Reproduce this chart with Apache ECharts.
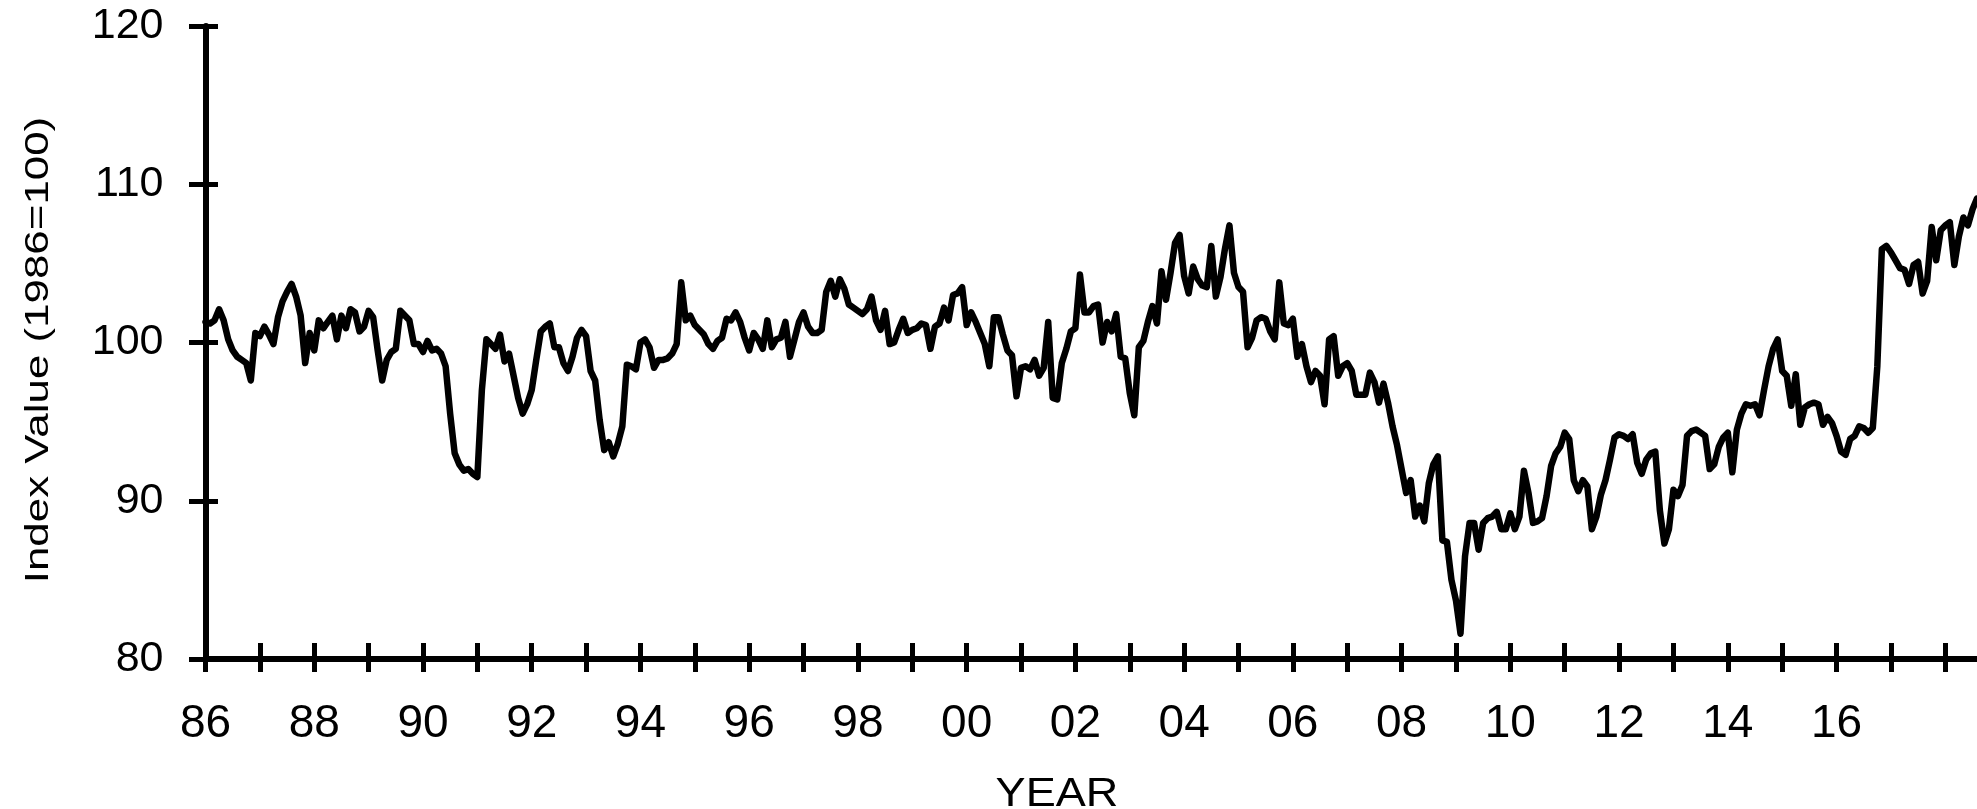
<!DOCTYPE html>
<html>
<head>
<meta charset="utf-8">
<title>Index Value (1986=100)</title>
<script src="https://cdn.jsdelivr.net/npm/echarts@6/dist/echarts.min.js"></script>
<style>
  html, body { margin: 0; padding: 0; background: #fff; }
  #chart { width: 1977px; height: 809px; }
</style>
</head>
<body>
<div id="chart"></div>
<script>
// monthly index, first value is Jan 1986
const startYear = 1986
const lastLabelYear = 2016
const indexValues = [
  101.3, 101.2, 101.4, 102.1, 101.4, 100.2, 99.5, 99.1, 98.9, 98.7, 97.6, 100.6,
  100.4, 101.0, 100.5, 99.9, 101.6, 102.6, 103.2, 103.7, 102.9, 101.7, 98.7, 100.6,
  99.5, 101.4, 100.9, 101.3, 101.7, 100.2, 101.7, 100.9, 102.1, 101.9, 100.7, 101.0,
  102.0, 101.6, 99.5, 97.6, 98.9, 99.4, 99.6, 102.0, 101.7, 101.4, 99.9, 99.9,
  99.4, 100.1, 99.5, 99.6, 99.3, 98.5, 95.5, 93.0, 92.3, 91.9, 92.0, 91.7,
  91.5, 97.0, 100.2, 99.9, 99.6, 100.5, 98.8, 99.3, 97.9, 96.5, 95.5, 96.1,
  97.0, 98.9, 100.7, 101.0, 101.2, 99.7, 99.7, 98.7, 98.2, 99.1, 100.3, 100.8,
  100.4, 98.2, 97.6, 95.1, 93.2, 93.7, 92.8, 93.6, 94.7, 98.6, 98.5, 98.3,
  100.0, 100.2, 99.7, 98.4, 98.9, 98.9, 99.0, 99.3, 99.9, 103.8, 101.4, 101.7,
  101.1, 100.8, 100.5, 99.9, 99.6, 100.1, 100.3, 101.5, 101.4, 101.9, 101.3, 100.3,
  99.5, 100.6, 100.2, 99.6, 101.4, 99.7, 100.2, 100.3, 101.3, 99.1, 100.2, 101.3,
  101.9, 101.0, 100.6, 100.6, 100.8, 103.2, 103.9, 102.9, 104.0, 103.4, 102.4, 102.2,
  102.0, 101.8, 102.1, 102.9, 101.4, 100.8, 102.0, 99.9, 100.0, 100.8, 101.5, 100.6,
  100.8, 100.9, 101.2, 101.1, 99.6, 101.0, 101.2, 102.2, 101.4, 103.0, 103.1, 103.5,
  101.1, 101.9, 101.3, 100.6, 99.9, 98.5, 101.6, 101.6, 100.5, 99.5, 99.2, 96.6,
  98.4, 98.5, 98.3, 98.9, 97.9, 98.4, 101.3, 96.5, 96.4, 98.7, 99.6, 100.7,
  100.9, 104.3, 101.9, 101.9, 102.3, 102.4, 100.0, 101.3, 100.7, 101.8, 99.1, 99.0,
  96.8, 95.4, 99.7, 100.1, 101.3, 102.3, 101.2, 104.5, 102.7, 104.4, 106.3, 106.8,
  104.2, 103.1, 104.8, 104.0, 103.6, 103.5, 106.1, 102.9, 104.1, 105.9, 107.4, 104.4,
  103.5, 103.2, 99.7, 100.3, 101.4, 101.6, 101.5, 100.7, 100.2, 103.8, 101.2, 101.1,
  101.5, 99.1, 99.9, 98.5, 97.5, 98.2, 97.9, 96.1, 100.2, 100.4, 97.9, 98.5,
  98.7, 98.2, 96.7, 96.7, 96.7, 98.1, 97.5, 96.2, 97.4, 96.2, 94.7, 93.5,
  92.0, 90.5, 91.3, 89.0, 89.7, 88.7, 91.1, 92.3, 92.8, 87.5, 87.4, 85.0,
  83.7, 81.6, 86.5, 88.6, 88.6, 86.9, 88.6, 88.9, 89.0, 89.3, 88.2, 88.2,
  89.2, 88.2, 89.0, 91.9, 90.5, 88.6, 88.7, 88.9, 90.3, 92.2, 93.0, 93.4,
  94.3, 93.9, 91.3, 90.6, 91.3, 90.9, 88.2, 89.0, 90.4, 91.3, 92.6, 94.0,
  94.2, 94.1, 93.9, 94.2, 92.4, 91.7, 92.6, 93.0, 93.1, 89.4, 87.3, 88.2,
  90.7, 90.3, 91.0, 94.1, 94.4, 94.5, 94.3, 94.1, 92.0, 92.3, 93.4, 94.0,
  94.3, 91.8, 94.5, 95.5, 96.1, 96.0, 96.1, 95.4, 97.0, 98.5, 99.6, 100.2,
  98.2, 97.9, 96.0, 98.0, 94.8, 95.9, 96.1, 96.2, 96.1, 94.8, 95.3, 94.9,
  94.1, 93.1, 92.9, 93.9, 94.1, 94.7, 94.6, 94.3, 94.6, 98.5, 105.9, 106.1,
  105.7, 105.2, 104.7, 104.6, 103.7, 104.9, 105.1, 103.1, 103.9, 107.3, 105.2, 107.1,
  107.4, 107.6, 104.9, 106.7, 107.9, 107.4, 108.4, 109.1
]
const yMin = 80
const yMax = 120
const yStep = 10
const yTitle = 'Index Value (1986=100)'
const xTitle = 'YEAR'

// category per month, e.g. 1986-01
const months = indexValues.map((v, i) => {
  const year = startYear + Math.floor(i / 12)
  const month = (i % 12) + 1
  return year + '-' + String(month).padStart(2, '0')
})

const font = 'Liberation Sans'
const black = '#000'

function isYearStart(i) {
  return i % 12 === 0
}

function showYearLabel(i) {
  return i % 24 === 0 && startYear + i / 12 <= lastLabelYear
}

const chart = echarts.init(document.getElementById('chart'))

const option = {
  animation: false,
  backgroundColor: '#fff',
  grid: {
    left: 205.5,
    right: 0,
    top: 26,
    bottom: 150,
    containLabel: false,
    outerBoundsMode: 'none'
  },
  xAxis: [
    {
      type: 'category',
      data: months,
      boundaryGap: false,
      position: 'bottom',
      axisLine: { show: true, onZero: false, lineStyle: { color: black, width: 6 } },
      axisTick: { show: true, interval: isYearStart, length: 13, lineStyle: { color: black, width: 5 } },
      axisLabel: {
        interval: showYearLabel,
        formatter: (v) => v.slice(2, 4),
        color: black,
        fontSize: 46,
        fontFamily: font,
        margin: 42
      },
      splitLine: { show: false }
    },
    {
      // inner half of the crossing ticks
      type: 'category',
      data: months,
      boundaryGap: false,
      position: 'bottom',
      axisLine: { show: false, onZero: false },
      axisTick: { show: true, inside: true, interval: isYearStart, length: 16, lineStyle: { color: black, width: 5 } },
      axisLabel: { show: false },
      splitLine: { show: false }
    }
  ],
  yAxis: [
    {
      type: 'value',
      min: yMin,
      max: yMax,
      interval: yStep,
      position: 'left',
      axisLine: { show: true, onZero: false, lineStyle: { color: black, width: 6 } },
      axisTick: { show: true, length: 16.5, lineStyle: { color: black, width: 5 } },
      axisLabel: { color: black, fontSize: 43, fontFamily: font, margin: 42 },
      splitLine: { show: false }
    },
    {
      type: 'value',
      min: yMin,
      max: yMax,
      interval: yStep,
      position: 'left',
      axisLine: { show: false, onZero: false },
      axisTick: { show: true, inside: true, length: 12.5, lineStyle: { color: black, width: 5 } },
      axisLabel: { show: false },
      splitLine: { show: false }
    }
  ],
  graphic: [
    {
      type: 'text',
      x: 39,
      y: 350,
      rotation: Math.PI / 2,
      scaleX: 1.33,
      style: {
        text: yTitle,
        font: '33px "' + font + '"',
        fill: black,
        align: 'center',
        verticalAlign: 'middle',
        textAlign: 'center',
        textVerticalAlign: 'middle'
      }
    },
    {
      type: 'text',
      x: 1057,
      y: 795,
      scaleX: 1.1,
      style: {
        text: xTitle,
        font: '41px "' + font + '"',
        fill: black,
        align: 'center',
        verticalAlign: 'middle',
        textAlign: 'center',
        textVerticalAlign: 'middle'
      }
    }
  ],
  series: [
    {
      name: yTitle,
      type: 'line',
      data: indexValues,
      xAxisIndex: 0,
      yAxisIndex: 0,
      symbol: 'none',
      showSymbol: false,
      lineStyle: { color: black, width: 6.5, join: 'round', cap: 'round' }
    }
  ]
}

chart.setOption(option)
</script>
</body>
</html>
